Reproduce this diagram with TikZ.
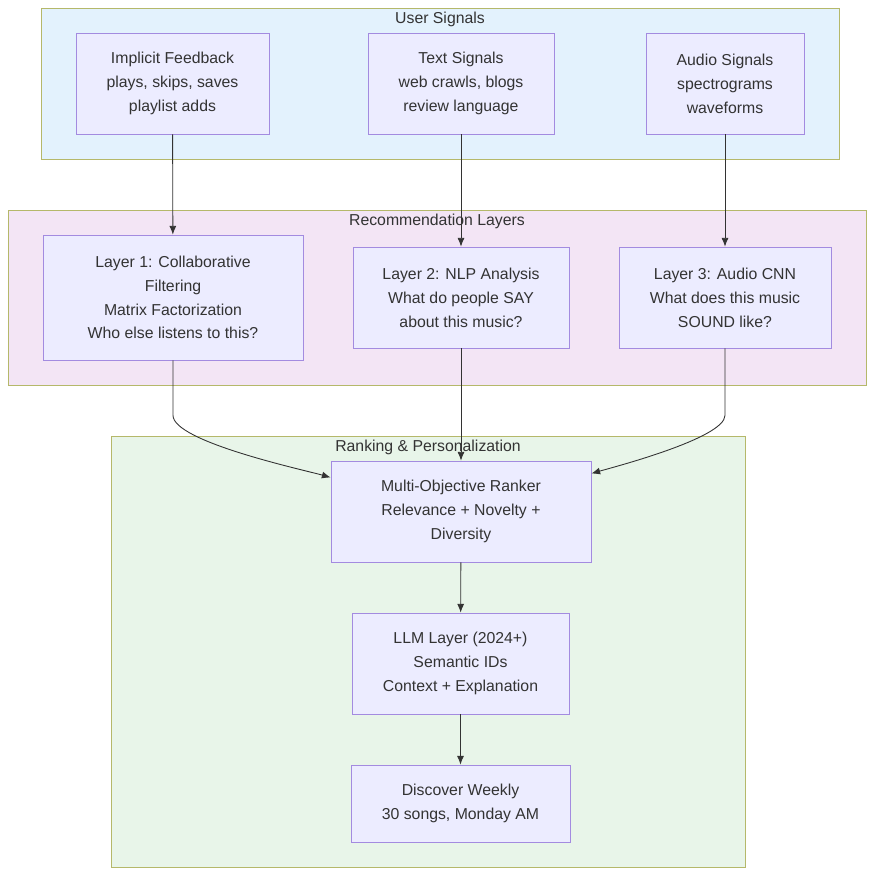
\documentclass[tikz,border=0pt]{standalone}
\usepackage{fontspec}
\setmainfont{Liberation Sans}
\usetikzlibrary{arrows.meta,positioning,fit,calc}
\definecolor{nodefill}{HTML}{ECECFF}
\definecolor{nodeline}{HTML}{A38BE0}
\definecolor{grpline}{HTML}{B5B86A}
\definecolor{edgecol}{HTML}{333333}
\definecolor{bluefill}{HTML}{E3F2FD}
\definecolor{purplefill}{HTML}{F3E5F5}
\definecolor{greenfill}{HTML}{E8F5E9}
\begin{document}
\begin{tikzpicture}[x=0.02cm, y=-0.02cm,
    box/.style={rectangle, draw=nodeline, fill=nodefill, align=center, font=\fontsize{9}{13.6}\selectfont, text=edgecol, inner sep=0pt},
    group/.style={draw=grpline, line width=0.5pt},
    title/.style={font=\fontsize{9}{11}\selectfont, text=edgecol},
    arrow/.style={-{Latex[length=5pt,width=4pt]}, draw=edgecol, line width=0.5pt}
]
\useasboundingbox (0,0) rectangle (874,876);

% Groups
\filldraw[group, fill=bluefill] (41,8) rectangle (839,159);
\node[title] at (440,19) {User Signals};
\filldraw[group, fill=purplefill] (8,210) rectangle (866,385);
\node[title] at (437,221) {Recommendation Layers};
\filldraw[group, fill=greenfill] (111,436) rectangle (745,867);
\node[title] at (428,447) {Ranking \& Personalization};

% Signals
\node[box, minimum width=193*0.02cm, minimum height=101*0.02cm] (implicit) at (172.5,83.5) {Implicit Feedback\\plays, skips, saves\\playlist adds};
\node[box, minimum width=186*0.02cm, minimum height=101*0.02cm] (text) at (461,83.5) {Text Signals\\web crawls, blogs\\review language};
\node[box, minimum width=158*0.02cm, minimum height=101*0.02cm] (audio) at (725,83.5) {Audio Signals\\spectrograms\\waveforms};

% Layers
\node[box, minimum width=260*0.02cm, minimum height=125*0.02cm] (cf) at (173,297.5) {Layer 1: Collaborative\\Filtering\\Matrix Factorization\\Who else listens to this?};
\node[box, minimum width=216*0.02cm, minimum height=101*0.02cm] (nlp) at (461,297.5) {Layer 2: NLP Analysis\\What do people SAY\\about this music?};
\node[box, minimum width=212*0.02cm, minimum height=101*0.02cm] (cnn) at (725,297.5) {Layer 3: Audio CNN\\What does this music\\SOUND like?};

% Ranking
\node[box, minimum width=260*0.02cm, minimum height=101*0.02cm] (ranker) at (461,511.5) {Multi-Objective Ranker\\Relevance + Novelty +\\Diversity};
\node[box, minimum width=217*0.02cm, minimum height=101*0.02cm] (llm) at (460.5,663.5) {LLM Layer (2024+)\\Semantic IDs\\Context + Explanation};
\node[box, minimum width=219*0.02cm, minimum height=77*0.02cm] (weekly) at (460.5,803.5) {Discover Weekly\\30 songs, Monday AM};

% Arrows
\draw[arrow] (implicit) -- (cf);
\draw[arrow] (text) -- (nlp);
\draw[arrow] (audio) -- (cnn);
\draw[arrow] (nlp) -- (ranker);
\draw[arrow] (cf.south) -- ++(0,55) to[out=-90, in=164, looseness=0.4] ($(ranker.west)+(0,-34)$);
\draw[arrow] (cnn.south) -- ++(0,67) to[out=-90, in=16, looseness=0.4] ($(ranker.east)+(0,-38)$);
\draw[arrow] (ranker) -- (llm);
\draw[arrow] (llm) -- (weekly);

\end{tikzpicture}
\end{document}
